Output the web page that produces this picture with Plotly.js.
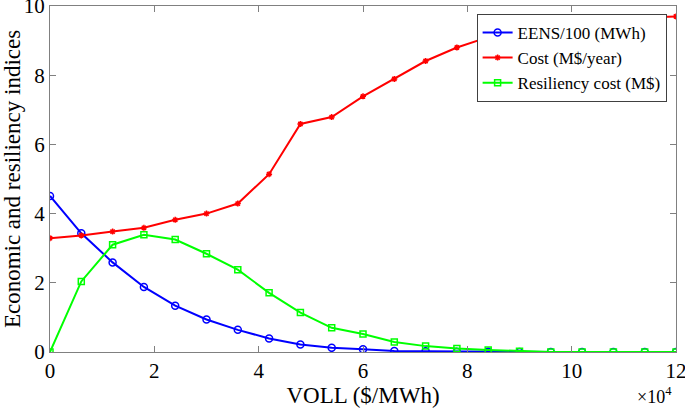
<!DOCTYPE html>
<html>
<head>
<meta charset="utf-8">
<script src="https://cdn.plot.ly/plotly-3.0.1.min.js"></script>
<style>html,body{margin:0;padding:0;background:#fff}#chart{width:685px;height:408px}</style>
</head>
<body>
<div id="chart"></div>
<script>
// VOLL ($/MWh)
const voll = [0, 6000, 12000, 18000, 24000, 30000, 36000, 42000, 48000, 54000, 60000,
              66000, 72000, 78000, 84000, 90000, 96000, 102000, 108000, 114000, 120000];
const eens100 = [4.51, 3.43, 2.59, 1.88, 1.34, 0.94, 0.64, 0.39, 0.22, 0.12, 0.08,
                 0.03, 0.02, 0.01, 0.005, 0, 0, 0, 0, 0, 0];
const cost = [3.29, 3.37, 3.48, 3.59, 3.82, 4.0, 4.29, 5.14, 6.59, 6.79, 7.39,
              7.89, 8.41, 8.80, 9.10, 9.30, 9.45, 9.55, 9.62, 9.67, 9.70];
const resCost = [0, 2.04, 3.10, 3.39, 3.25, 2.84, 2.38, 1.71, 1.14, 0.70, 0.52,
                 0.29, 0.17, 0.10, 0.06, 0.02, 0, 0, 0, 0, 0];
const xTickVals = [0, 20000, 40000, 60000, 80000, 100000, 120000];
const xTickText = ['0', '2', '4', '6', '8', '10', '12'];
const yTickVals = [0, 2, 4, 6, 8, 10];
const seriesNames = ['EENS/100 (MWh)', 'Cost (M$/year)', 'Resiliency cost (M$)'];

const font = 'Liberation Serif, Times New Roman, serif';
const traces = [
  {x: voll, y: eens100, name: seriesNames[0], mode: 'lines+markers',
   line: {color: '#0000ff', width: 2}, marker: {symbol: 'circle-open', size: 7, color: '#0000ff', line: {width: 1.5}}},
  {x: voll, y: cost, name: seriesNames[1], mode: 'lines+markers',
   line: {color: '#ff0000', width: 2}, marker: {symbol: 'asterisk-open', size: 5, color: '#ff0000', line: {width: 1.5}}},
  {x: voll, y: resCost, name: seriesNames[2], mode: 'lines+markers',
   line: {color: '#00ff00', width: 2}, marker: {symbol: 'square-open', size: 6, color: '#00ff00', line: {width: 1.5}}}
];
const axisCommon = {
  showgrid: false, zeroline: false, showline: true, mirror: 'ticks',
  linecolor: '#808080', linewidth: 1, ticks: 'inside', ticklen: 6, tickcolor: '#808080',
  ticklabeloverflow: 'allow',
  tickfont: {family: font, size: 21, color: '#000'}
};
const layout = {
  width: 685, height: 408,
  margin: {l: 50, r: 9, t: 6, b: 56},
  paper_bgcolor: '#fff', plot_bgcolor: '#fff',
  font: {family: font, color: '#000'},
  showlegend: true,
  xaxis: Object.assign({}, axisCommon, {
    range: [0, 120000], tickvals: xTickVals, ticktext: xTickText, ticklabelstandoff: 0,
    title: {text: 'VOLL ($/MWh)', font: {family: font, size: 23}, standoff: 3}
  }),
  yaxis: Object.assign({}, axisCommon, {
    range: [0, 10], tickvals: yTickVals, ticklabelstandoff: 0,
    title: {text: 'Economic and resiliency indices', font: {family: font, size: 23}, standoff: 3}
  }),
  legend: {
    x: 0.985, y: 0.977, xanchor: 'right', yanchor: 'top',
    bgcolor: '#fff', bordercolor: '#404040', borderwidth: 1,
    font: {family: font, size: 17}, tracegroupgap: 0, itemwidth: 30
  },
  annotations: [{
    text: '×10<sup>4</sup>', xref: 'paper', yref: 'paper', x: 0.995, y: -0.163,
    xanchor: 'right', yanchor: 'bottom', showarrow: false, borderpad: 0,
    font: {family: font, size: 18}
  }]
};
Plotly.newPlot('chart', traces, layout, {displayModeBar: false, staticPlot: true});
</script>
</body>
</html>
